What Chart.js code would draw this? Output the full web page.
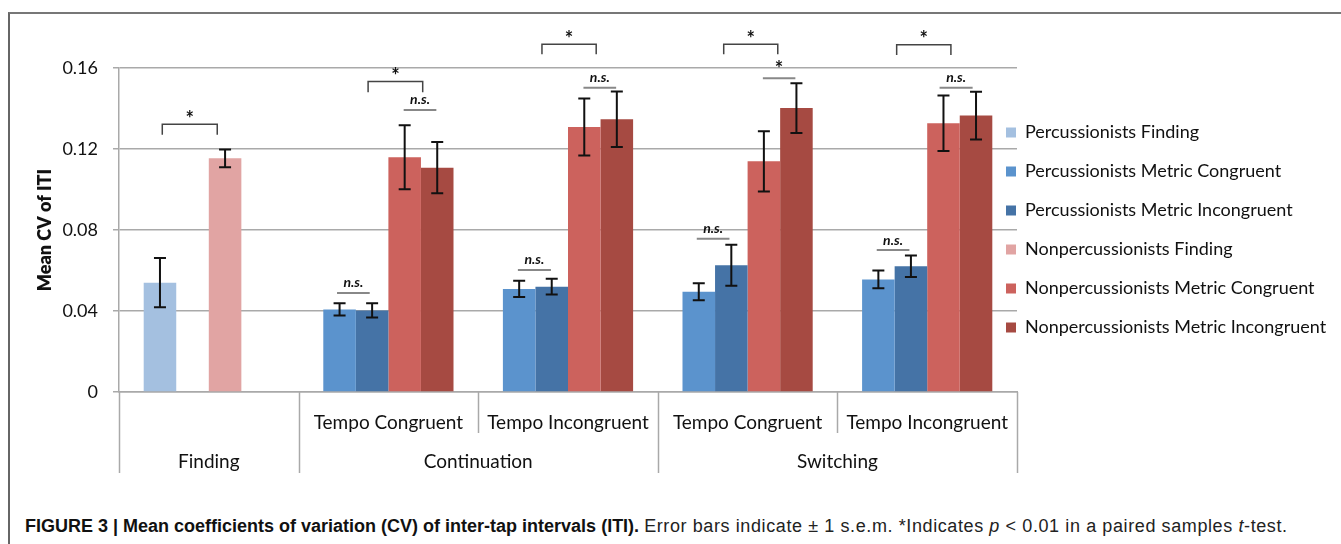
<!DOCTYPE html>
<html>
<head>
<meta charset="utf-8">
<title>Mean CV of ITI</title>
<script src="https://cdn.jsdelivr.net/npm/chart.js@4.4.1/dist/chart.umd.min.js"></script>
<style>
  html, body { margin: 0; padding: 0; background: #fff; }
  body { width: 1341px; height: 544px; position: relative; overflow: hidden; }
  #frame { position: absolute; left: 8px; top: 12px; right: -10px; bottom: -10px;
           border-left: 2px solid #666; border-top: 2px solid #777; }
  #chartBox { position: absolute; left: 0; top: 0; width: 1341px; height: 480px; }
  #caption { position: absolute; left: 25px; top: 516px; line-height: 22px;
             font: 18px "Liberation Sans", Arial, sans-serif; color: #222; white-space: nowrap; }
  #caption b { color: #111; }
  #caption span { letter-spacing: 0.6px; }
</style>
</head>
<body>
<div id="frame"></div>
<div id="chartBox"><canvas id="chart"></canvas></div>
<div id="caption"><b>FIGURE 3 | Mean coefficients of variation (CV) of inter-tap intervals (ITI).</b> <span>Error bars indicate ± 1 s.e.m. *Indicates <i>p</i> &lt; 0.01 in a paired samples <i>t</i>-test.</span></div>

<script>
// Categories and axis labels
const categories = ['', 'Tempo Congruent', 'Tempo Incongruent', 'Tempo Congruent', 'Tempo Incongruent'];
const groups = ['Finding', 'Continuation', 'Switching'];
const groupSpans = [[0, 0], [1, 2], [3, 4]];
const yTicks = [0, 0.04, 0.08, 0.12, 0.16];
const yTickLabels = ['0', '0.04', '0.08', '0.12', '0.16'];

// Means
const percFinding = [0.054, null, null, null, null];
const percMetricCong = [null, 0.0408, 0.0509, 0.0495, 0.0556];
const percMetricIncong = [null, 0.0403, 0.0520, 0.0626, 0.0621];
const nonpercFinding = [0.1154, null, null, null, null];
const nonpercMetricCong = [null, 0.1159, 0.1309, 0.1139, 0.1327];
const nonpercMetricIncong = [null, 0.1108, 0.1347, 0.1402, 0.1365];

// s.e.m.
const percFindingErr = [0.0122, null, null, null, null];
const percMetricCongErr = [null, 0.0030, 0.0040, 0.0042, 0.0044];
const percMetricIncongErr = [null, 0.0035, 0.0039, 0.0101, 0.0053];
const nonpercFindingErr = [0.0044, null, null, null, null];
const nonpercMetricCongErr = [null, 0.0158, 0.0141, 0.0149, 0.0137];
const nonpercMetricIncongErr = [null, 0.0127, 0.0137, 0.0123, 0.0118];

// Significance marks: [category, from, to (offset in categories), bracket value, leg end value]
const starBrackets = [
    [0, -0.259, 0.047, 0.1322, 0.1270],
    [1, -0.113, 0.191, 0.1533, 0.1480],
    [2, -0.145, 0.157, 0.1717, 0.1668],
    [3, -0.133, 0.168, 0.1717, 0.1668],
    [4, -0.170, 0.132, 0.1715, 0.1664]
];
// [category, from, to, line value, label]
const sigLines = [
    [1, 0.085, 0.267, 0.1393, 'n.s.'],
    [1, -0.286, -0.104, 0.0489, 'n.s.'],
    [2, 0.086, 0.268, 0.1503, 'n.s.'],
    [2, -0.279, -0.095, 0.0603, 'n.s.'],
    [3, 0.085, 0.266, 0.1549, '*'],
    [3, -0.283, -0.101, 0.0757, 'n.s.'],
    [4, 0.069, 0.253, 0.1503, 'n.s.'],
    [4, -0.281, -0.099, 0.0701, 'n.s.']
];

const series = [
    { label: 'Percussionists Finding', data: percFinding, errors: percFindingErr, color: '#a4c0e0', stack: 'a' },
    { label: 'Percussionists Metric Congruent', data: percMetricCong, errors: percMetricCongErr, color: '#5b93cd', stack: 'a' },
    { label: 'Percussionists Metric Incongruent', data: percMetricIncong, errors: percMetricIncongErr, color: '#4573a6', stack: 'b' },
    { label: 'Nonpercussionists Finding', data: nonpercFinding, errors: nonpercFindingErr, color: '#e1a4a3', stack: 'c' },
    { label: 'Nonpercussionists Metric Congruent', data: nonpercMetricCong, errors: nonpercMetricCongErr, color: '#cc625d', stack: 'c' },
    { label: 'Nonpercussionists Metric Incongruent', data: nonpercMetricIncong, errors: nonpercMetricIncongErr, color: '#a64a42', stack: 'd' }
];

const FONT = 'Lato, "Open Sans", sans-serif';
const GRID = '#a9a9a9';

// Error bars, significance marks and the two-level category axis
const overlayPlugin = {
    id: 'overlay',
    afterLayout(chart) {
        // let the legend sit a little into the plot, as in the original
        const lg = chart.legend;
        lg.left = chart.chartArea.right - 11 - lg.options.labels.padding;
        lg.right = chart.width;
    },
    afterDatasetsDraw(chart) {
        const ctx = chart.ctx;
        const yScale = chart.scales.y;
        ctx.save();
        ctx.strokeStyle = '#111';
        ctx.lineWidth = 2;
        chart.data.datasets.forEach((ds, i) => {
            chart.getDatasetMeta(i).data.forEach((bar, j) => {
                const v = ds.data[j];
                if (v === null) return;
                const e = ds.errors[j];
                const yTop = yScale.getPixelForValue(v + e);
                const yBot = yScale.getPixelForValue(v - e);
                ctx.beginPath();
                ctx.moveTo(bar.x, yTop); ctx.lineTo(bar.x, yBot);
                ctx.moveTo(bar.x - 6, yTop); ctx.lineTo(bar.x + 6, yTop);
                ctx.moveTo(bar.x - 6, yBot); ctx.lineTo(bar.x + 6, yBot);
                ctx.stroke();
            });
        });
        ctx.restore();
    },
    afterDraw(chart) {
        const ctx = chart.ctx;
        const xScale = chart.scales.x;
        const yScale = chart.scales.y;
        const base = chart.chartArea.bottom;
        ctx.save();

        // category separators below the axis
        ctx.strokeStyle = GRID;
        ctx.lineWidth = 1.5;
        for (let i = 0; i <= categories.length; i++) {
            const px = Math.round(xScale.getPixelForValue(i - 0.5)) + 0.5;
            const edge = groupSpans.some(([a, b]) => a === i || b + 1 === i);
            ctx.beginPath();
            ctx.moveTo(px, base);
            ctx.lineTo(px, base + (edge ? 81 : 41));
            ctx.stroke();
        }

        ctx.fillStyle = '#111';
        ctx.textAlign = 'center';
        ctx.textBaseline = 'middle';
        ctx.font = '19px ' + FONT;
        categories.forEach((c, i) => {
            if (c) ctx.fillText(c, xScale.getPixelForValue(i), base + 31);
        });
        groups.forEach((g, k) => {
            const [a, b] = groupSpans[k];
            const px = (xScale.getPixelForValue(a) + xScale.getPixelForValue(b)) / 2;
            ctx.fillText(g, px, base + 70);
        });

        // brackets with stars
        starBrackets.forEach(([c, from, to, v, leg]) => {
            const x1 = xScale.getPixelForValue(c + from);
            const x2 = xScale.getPixelForValue(c + to);
            const y = yScale.getPixelForValue(v);
            const yl = yScale.getPixelForValue(leg);
            ctx.strokeStyle = '#444';
            ctx.lineWidth = 1.5;
            ctx.beginPath();
            ctx.moveTo(x1, yl); ctx.lineTo(x1, y); ctx.lineTo(x2, y); ctx.lineTo(x2, yl);
            ctx.stroke();
            ctx.font = 'bold 20px ' + FONT;
            ctx.fillText('*', (x1 + x2) / 2, y - 5);
        });

        // plain lines with n.s. or star
        sigLines.forEach(([c, from, to, v, label]) => {
            const x1 = xScale.getPixelForValue(c + from);
            const x2 = xScale.getPixelForValue(c + to);
            const y = yScale.getPixelForValue(v);
            ctx.strokeStyle = '#888';
            ctx.lineWidth = 2;
            ctx.beginPath();
            ctx.moveTo(x1, y); ctx.lineTo(x2, y);
            ctx.stroke();
            if (label === '*') {
                ctx.font = 'bold 20px ' + FONT;
                ctx.fillText(label, (x1 + x2) / 2, y - 9);
            } else {
                ctx.font = 'italic bold 14px ' + FONT;
                ctx.fillText(label, (x1 + x2) / 2, y - 10);
            }
        });
        ctx.restore();
    }
};

new Chart(document.getElementById('chart'), {
    type: 'bar',
    data: {
        labels: categories,
        datasets: series.map(s => ({
            label: s.label,
            data: s.data,
            errors: s.errors,
            stack: s.stack,
            backgroundColor: s.color,
            borderWidth: 0,
            categoryPercentage: 0.725,
            barPercentage: 1.0
        }))
    },
    options: {
        responsive: true,
        maintainAspectRatio: false,
        animation: false,
        layout: { padding: { left: 0, top: 68, right: 0, bottom: 7 } },
        plugins: {
            tooltip: { enabled: false },
            legend: {
                position: 'right',
                fullSize: false,
                maxWidth: 324,
                labels: {
                    boxWidth: 10,
                    boxHeight: 10,
                    padding: 21,
                    color: '#111',
                    font: { family: FONT, size: 18 }
                }
            }
        },
        scales: {
            x: {
                ticks: { display: false },
                grid: { display: false },
                border: { color: GRID, width: 1.5 },
                afterFit: s => { s.height = 81; }
            },
            y: {
                min: 0,
                max: 0.16,
                afterBuildTicks: s => { s.ticks = yTicks.map(v => ({ value: v })); },
                ticks: {
                    callback: (v, i) => yTickLabels[i],
                    padding: 15,
                    color: '#111',
                    font: { family: FONT, size: 18 }
                },
                grid: { color: GRID, lineWidth: 1.5, tickLength: 6 },
                border: { color: GRID, width: 1.5 },
                title: {
                    display: true,
                    text: 'Mean CV of ITI',
                    color: '#111',
                    font: { family: FONT, size: 18, weight: '800' },
                    padding: { top: 34, bottom: 0 }
                },
                afterFit: s => { s.width = 119; }
            }
        }
    },
    plugins: [overlayPlugin]
});
</script>
</body>
</html>
